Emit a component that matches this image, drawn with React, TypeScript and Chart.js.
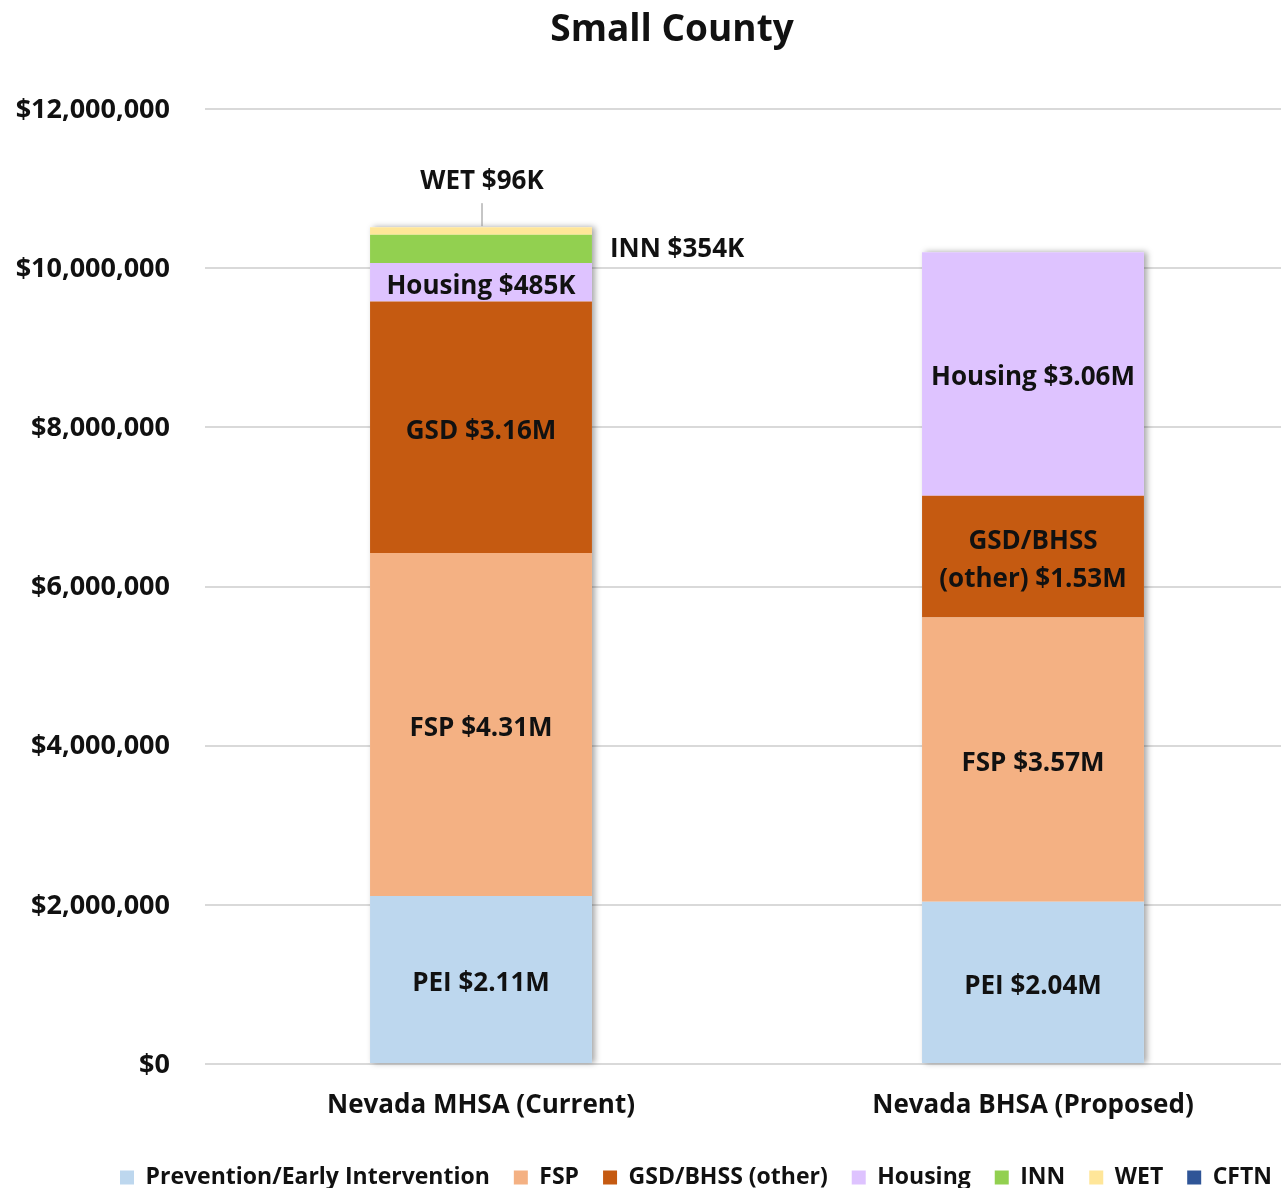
import React, { useEffect, useRef } from 'react';
import { Chart, registerables } from 'chart.js';

Chart.register(...registerables);

const chartTitle = 'Small County';
const categories = ['Nevada MHSA (Current)', 'Nevada BHSA (Proposed)'];
const seriesNames = ['Prevention/Early Intervention', 'FSP', 'GSD/BHSS (other)', 'Housing', 'INN', 'WET', 'CFTN'];
const peiValues = [2110000, 2040000];
const fspValues = [4310000, 3570000];
const gsdValues = [3160000, 1530000];
const housingValues = [485000, 3060000];
const innValues = [354000, 0];
const wetValues = [96000, 0];
const cftnValues = [0, 0];
const seriesValues = [peiValues, fspValues, gsdValues, housingValues, innValues, wetValues, cftnValues];
// short names used in the bar labels, per category
const mhsaLabelNames = ['PEI', 'FSP', 'GSD', 'Housing', 'INN', 'WET', 'CFTN'];
const bhsaLabelNames = ['PEI', 'FSP', 'GSD/BHSS\n(other)', 'Housing', 'INN', 'WET', 'CFTN'];
const labelNames = [mhsaLabelNames, bhsaLabelNames];
const yMin = 0;
const yMax = 12000000;
const yStep = 2000000;

const seriesColors = ['#BDD7EE', '#F4B183', '#C55A11', '#DEC3FF', '#92D050', '#FFE699', '#2F5597'];
const FONT = '"Open Sans", "Noto Sans", sans-serif';
const TEXT = '#111111';

function fmtMoney(v: number): string {
  if (v >= 1000000) return '$' + (v / 1000000).toFixed(2) + 'M';
  return '$' + Math.round(v / 1000) + 'K';
}

const shadowPlugin = {
  id: 'barShadow',
  afterLayout(chart: any) {
    // nudge the legend to sit where the reference has it
    if (chart.legend) {
      chart.legend.left += 24;
      chart.legend.right += 24;
    }
  },
  beforeDatasetsDraw(chart: any) {
    const ctx = chart.ctx;
    const n = chart.data.labels.length;
    for (let j = 0; j < n; j++) {
      let top = Infinity;
      let base = -Infinity;
      let x = 0;
      let w = 0;
      chart.data.datasets.forEach((ds: any, i: number) => {
        if (!ds.data[j]) return;
        const el: any = chart.getDatasetMeta(i).data[j];
        top = Math.min(top, el.y);
        base = Math.max(base, el.base);
        x = el.x;
        w = el.width;
      });
      if (!isFinite(top)) continue;
      ctx.save();
      ctx.shadowColor = 'rgba(0,0,0,0.35)';
      ctx.shadowBlur = 6;
      ctx.shadowOffsetX = 3;
      ctx.shadowOffsetY = 0;
      ctx.fillStyle = '#ffffff';
      ctx.fillRect(x - w / 2, top, w, base - top);
      ctx.restore();
    }
  },
};

const labelPlugin = {
  id: 'segmentLabels',
  afterDatasetsDraw(chart: any) {
    const ctx = chart.ctx;
    ctx.save();
    ctx.font = `bold 26px ${FONT}`;
    ctx.fillStyle = TEXT;
    ctx.textBaseline = 'middle';
    const dy = 4;
    chart.data.datasets.forEach((ds: any, i: number) => {
      const meta = chart.getDatasetMeta(i);
      ds.data.forEach((v: number, j: number) => {
        if (!v) return;
        const el: any = meta.data[j];
        const name = labelNames[j][i];
        const lines = (name + ' ' + fmtMoney(v)).split('\n');
        const cy = (el.y + el.base) / 2 + dy;
        const series = seriesNames[i];
        if (series === 'INN' && j === 0) {
          ctx.textAlign = 'left';
          ctx.fillText(lines[0], el.x + el.width / 2 + 18, cy - 3);
        } else if (series === 'WET' && j === 0) {
          ctx.textAlign = 'center';
          ctx.fillText(lines[0], el.x + 1, el.y - 48 + dy - 2);
          ctx.strokeStyle = '#8c8c8c';
          ctx.lineWidth = 1;
          ctx.beginPath();
          ctx.moveTo(el.x + 1, el.y - 24);
          ctx.lineTo(el.x + 1, el.y - 1);
          ctx.stroke();
        } else {
          ctx.textAlign = 'center';
          const lh = 38;
          const startY = cy - ((lines.length - 1) * lh) / 2;
          lines.forEach((ln, k) => ctx.fillText(ln, el.x, startY + k * lh));
        }
      });
    });
    ctx.restore();
  },
};

export default function App() {
  const ref = useRef<HTMLCanvasElement | null>(null);
  useEffect(() => {
    if (!ref.current) return;
    const chart = new Chart(ref.current, {
      type: 'bar',
      data: {
        labels: categories,
        datasets: seriesNames.map((name, i) => ({
          label: name,
          data: seriesValues[i],
          backgroundColor: seriesColors[i],
          borderWidth: 0,
          barPercentage: 0.402,
          categoryPercentage: 1,
        })),
      },
      options: {
        responsive: false,
        animation: false,
        devicePixelRatio: 1,
        layout: { padding: 0 },
        plugins: {
          title: {
            display: true,
            text: chartTitle,
            color: TEXT,
            font: { family: FONT, size: 37, weight: 'bold' },
            padding: { top: 8, bottom: 56.6 },
          },
          legend: {
            position: 'bottom',
            labels: {
              color: TEXT,
              font: { family: FONT, size: 23, weight: 'bold' },
              boxWidth: 14,
              boxHeight: 14,
              padding: 24,
            },
          },
          tooltip: { enabled: false },
        },
        scales: {
          x: {
            stacked: true,
            grid: { display: false },
            border: { display: false },
            ticks: {
              color: TEXT,
              font: { family: FONT, size: 26, weight: 'bold' },
              padding: 18,
            },
            afterFit: (s: any) => { s.height = 78; },
          },
          y: {
            stacked: true,
            min: yMin,
            max: yMax,
            grid: { color: '#D9D9D9', lineWidth: 2, drawTicks: false },
            border: { display: false },
            ticks: {
              stepSize: yStep,
              color: TEXT,
              padding: 35,
              labelOffset: 1,
              font: { family: FONT, size: 27, weight: 'bold' },
              callback: (v: any) => '$' + Number(v).toLocaleString('en-US'),
            },
            afterFit: (s: any) => { s.width = 205; },
          },
          yRightSpace: {
            type: 'linear',
            position: 'right',
            display: true,
            grid: { display: false },
            border: { display: false },
            ticks: { display: false },
            afterFit: (s: any) => { s.width = 35; },
          },
        },
      } as any,
      plugins: [shadowPlugin, labelPlugin],
    });
    return () => chart.destroy();
  }, []);
  return (
    <div style={{ position: 'fixed', left: 0, top: 0, width: 1281, height: 1188, overflow: 'hidden', background: '#fff' }}>
      <canvas ref={ref} width={1344} height={1199} style={{ display: 'block', width: 1344, height: 1199 }} />
    </div>
  );
}
